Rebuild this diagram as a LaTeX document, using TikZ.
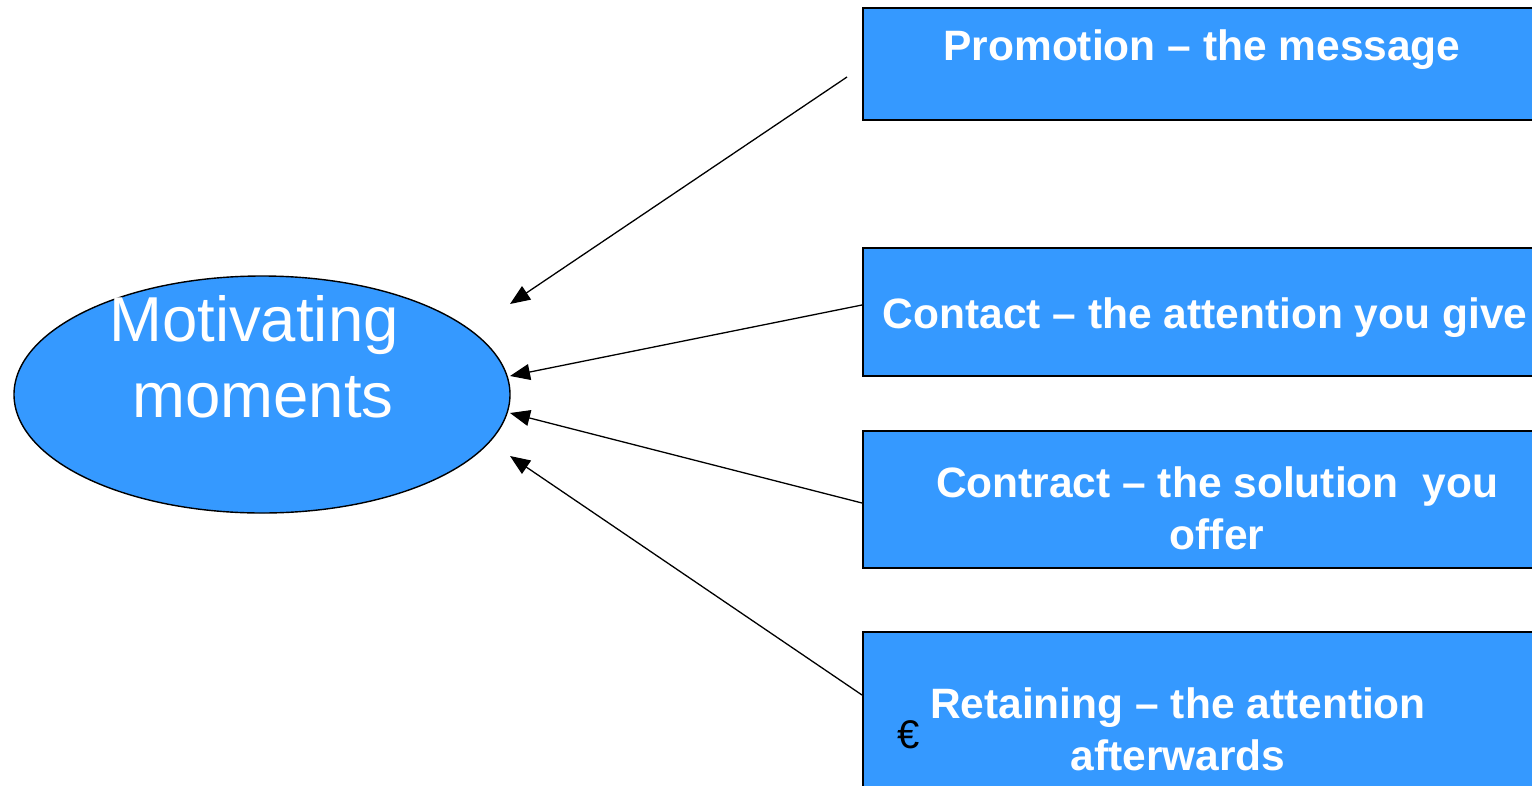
\documentclass[tikz,border=0pt]{standalone}
\usepackage{fontspec}
\setmainfont{Liberation Sans}
\usetikzlibrary{arrows.meta,shapes.geometric}
\definecolor{boxblue}{RGB}{53,153,255}
\tikzset{
  box/.style={draw=black, line width=1.5pt, fill=boxblue, rectangle, anchor=north west, inner sep=0pt},
  boxtext/.style={text=white, font=\fontsize{42.5}{52}\selectfont\bfseries, align=center, inner sep=0pt},
  conn/.style={draw=black, line width=1.3pt, -{Triangle[length=20pt,width=16pt]}},
}
\begin{document}
\begin{tikzpicture}[x=1pt,y=-1pt]
\useasboundingbox (0,0) rectangle (1532,785);
\clip (0,0) rectangle (1532,785);
\fill[white] (0,0) rectangle (1532,785);
% ellipse
\node[ellipse, draw=black, line width=1.4pt, fill=boxblue, minimum width=496pt, minimum height=237pt, inner sep=0pt] (mm) at (262,394.5) {};
\node[text=white, font=\fontsize{63.5}{76}\selectfont, align=center, inner sep=0pt] (mmt) at (254,357) {Motivating\\\hspace*{18pt}moments};
% boxes
\node[box, minimum width=700pt, minimum height=112pt] (b1) at (862,7) {};
\node[box, minimum width=700pt, minimum height=128pt] (b2) at (862,247) {};
\node[box, minimum width=700pt, minimum height=137pt] (b3) at (862,430) {};
\node[box, minimum width=700pt, minimum height=180pt] (b4) at (862,631) {};
% texts
\node[boxtext, anchor=base] (t1) at (1202,60) {Promotion -- the message};
\node[boxtext, anchor=base] (t2) at (1205,328) {Contact -- the attention you give};
\node[boxtext] (t3) at (1217,508) {Contract -- the solution\ \ you\\offer};
\node[boxtext] (t4) at (1178,729) {Retaining -- the attention\\afterwards};
\node[font=\fontsize{40}{48}\selectfont, inner sep=0pt] (euro) at (909,735) {€};
% connector ends
\coordinate (s1) at (847,77);
\coordinate (s2) at (b2.west |- 0,305);
\coordinate (s3) at (b3.west |- 0,503);
\coordinate (s4) at (b4.west |- 0,695);
\coordinate (e1) at (510,304);
\coordinate (e2) at (510,376);
\coordinate (e3) at (510,413);
\coordinate (e4) at (510,456);
\draw[conn] (s1) -- (e1);
\draw[conn] (s2) -- (e2);
\draw[conn] (s3) -- (e3);
\draw[conn] (s4) -- (e4);
\end{tikzpicture}
\end{document}
